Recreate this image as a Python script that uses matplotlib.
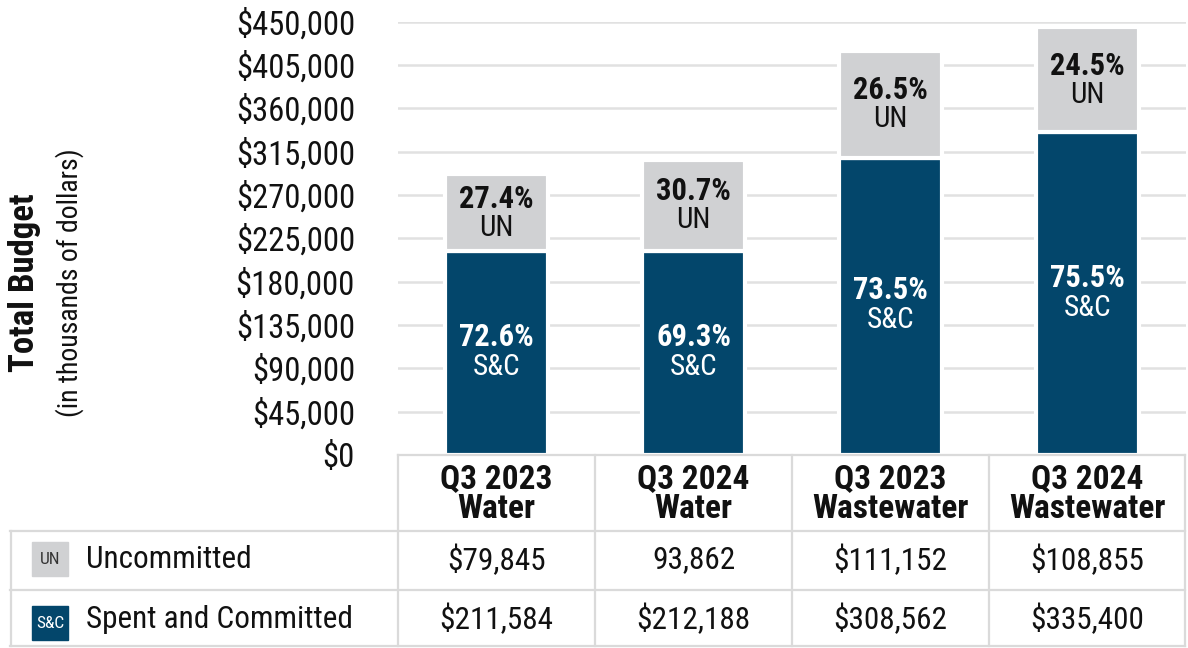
import matplotlib
matplotlib.use("Agg")
import matplotlib.pyplot as plt
from matplotlib import font_manager
from matplotlib.patches import Rectangle
from matplotlib.lines import Line2D

# pick a narrow font if one is around
names = set(f.name for f in font_manager.fontManager.ttflist)
fam = "DejaVu Sans"
for cand in ["Liberation Sans Narrow", "Roboto Condensed", "Open Sans Condensed", "Liberation Sans"]:
    if cand in names:
        fam = cand
        break
plt.rcParams['font.family'] = [fam, 'DejaVu Sans']

categories = ["Q3 2023\nWater", "Q3 2024\nWater", "Q3 2023\nWastewater", "Q3 2024\nWastewater"]
spent = [211584, 212188, 308562, 335400]
uncommitted = [79845, 93862, 111152, 108855]
uncommitted_txt = ["$79,845", "93,862", "$111,152", "$108,855"]
spent_txt = ["$211,584", "$212,188", "$308,562", "$335,400"]
yticks = [0, 45000, 90000, 135000, 180000, 225000, 270000, 315000, 360000, 405000, 450000]

navy = "#03466b"
grey = "#d0d1d3"
line_c = "#dadada"
ink = "#111111"
W, H = 1188, 648

def fx(x):
    return x / W

def fy(y):
    return 1 - y / H

fig = plt.figure(figsize=(11.88, 6.48), dpi=100)
ax = fig.add_axes([fx(398), fy(455), (1186 - 398) / W, (455 - 21.7) / H])

x = range(len(categories))
ax.bar(x, spent, width=0.52, color=navy, edgecolor="white", linewidth=3, zorder=3)
ax.bar(x, uncommitted, width=0.52, bottom=spent, color=grey, edgecolor="white", linewidth=3, zorder=3)

for i in x:
    tot = spent[i] + uncommitted[i]
    ym = spent[i] / 2
    ax.annotate("%.1f%%" % (spent[i] / tot * 100), (i, ym), xytext=(0, 16), textcoords="offset pixels",
                ha="center", va="center", color="white", fontsize=22, fontweight="bold", zorder=4)
    ax.annotate("S&C", (i, ym), xytext=(0, -14), textcoords="offset pixels",
                ha="center", va="center", color="white", fontsize=21, zorder=4)
    yu = spent[i] + uncommitted[i] / 2
    ax.annotate("%.1f%%" % (uncommitted[i] / tot * 100), (i, yu), xytext=(0, 14), textcoords="offset pixels",
                ha="center", va="center", color=ink, fontsize=22, fontweight="bold", zorder=4)
    ax.annotate("UN", (i, yu), xytext=(0, -15), textcoords="offset pixels",
                ha="center", va="center", color=ink, fontsize=21, zorder=4)

ax.set_xlim(-0.5, 3.5)
ax.set_ylim(0, 450000)
ax.set_yticks(yticks)
ax.set_yticklabels(["${:,}".format(v) for v in yticks], fontsize=23.5, color=ink)
ax.tick_params(axis="y", length=0, pad=31)
ax.set_xticks([])
ax.grid(axis="y", color="#e1e1e1", linewidth=1.8, zorder=0)
for s in ax.spines.values():
    s.set_visible(False)

fig.text(fx(25), fy(283), "Total Budget", rotation=90, ha="center", va="center",
         fontsize=25, fontweight="bold", color=ink)
fig.text(fx(70), fy(283), "(in thousands of dollars)", rotation=90, ha="center", va="center",
         fontsize=20, color=ink)

# table below the bars
def hline(y, x0, x1):
    fig.add_artist(Line2D([fx(x0), fx(x1)], [fy(y), fy(y)], color=line_c, lw=1.6))

def vline(x0, y0, y1):
    fig.add_artist(Line2D([fx(x0), fx(x0)], [fy(y0), fy(y1)], color=line_c, lw=1.6))

hline(455, 398, 1185)
for yy in [531, 590, 646]:
    hline(yy, 10, 1185)
for xx in [398, 595, 792, 989, 1185]:
    vline(xx, 455, 646)
vline(11, 531, 646)

col_c = [496.5, 693.5, 890.5, 1087]
for i, c in enumerate(col_c):
    fig.text(fx(c), fy(494), categories[i], ha="center", va="center", fontsize=24,
             fontweight="bold", color=ink, linespacing=0.9)
    fig.text(fx(c), fy(560), uncommitted_txt[i], ha="center", va="center", fontsize=22.5, color=ink)
    fig.text(fx(c), fy(619), spent_txt[i], ha="center", va="center", fontsize=22.5, color=ink)

fig.add_artist(Rectangle((fx(32), fy(576)), fx(36), 34 / H, color=grey))
fig.text(fx(50), fy(559), "UN", ha="center", va="center", fontsize=12.5, color="#333333")
fig.add_artist(Rectangle((fx(32), fy(640)), fx(36), 34 / H, color=navy))
fig.text(fx(50), fy(623), "S&C", ha="center", va="center", fontsize=12.5, color="white")
fig.text(fx(86), fy(560), "Uncommitted", ha="left", va="center", fontsize=22.5, color=ink)
fig.text(fx(86), fy(619), "Spent and Committed", ha="left", va="center", fontsize=22.5, color=ink)

fig.savefig("out.png", dpi=100)
